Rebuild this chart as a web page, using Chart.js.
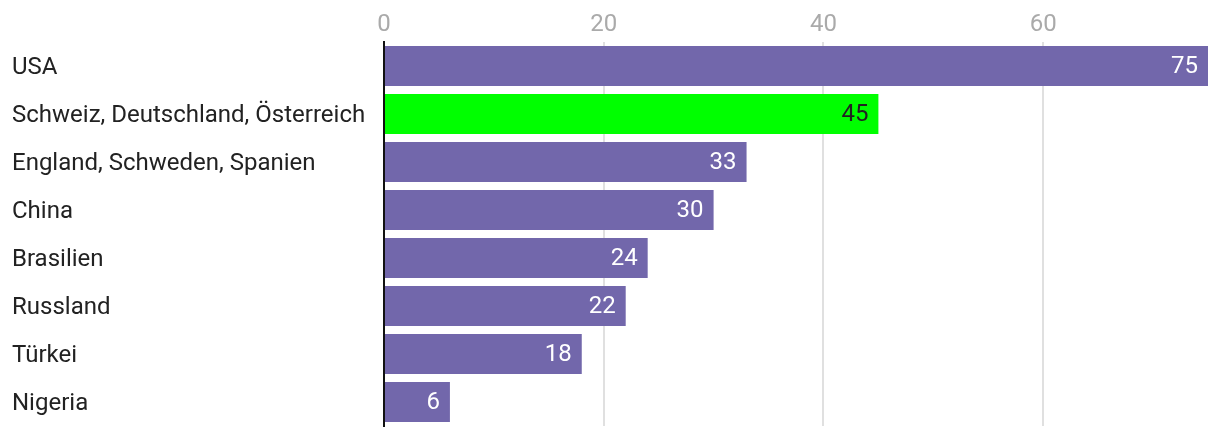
<!DOCTYPE html>
<html>
<head>
<meta charset="utf-8">
<script src="https://cdn.jsdelivr.net/npm/chart.js@4"></script>
<style>
  html, body { margin: 0; padding: 0; background: #fff; }
  #wrap { width: 1220px; height: 432px; }
</style>
</head>
<body>
<div id="wrap"><canvas id="chart"></canvas></div>
<script>
const countries = ['USA', 'Schweiz, Deutschland, Österreich', 'England, Schweden, Spanien', 'China', 'Brasilien', 'Russland', 'Türkei', 'Nigeria'];
const values = [75, 45, 33, 30, 24, 22, 18, 6];
const barColors = ['#7267ab', '#00ff00', '#7267ab', '#7267ab', '#7267ab', '#7267ab', '#7267ab', '#7267ab'];
const labelColors = ['#ffffff', '#222222', '#ffffff', '#ffffff', '#ffffff', '#ffffff', '#ffffff', '#ffffff'];
const xTicks = [0, 20, 40, 60];

Chart.defaults.font.family = 'Roboto, sans-serif';

// value labels inside the bar ends
const valueLabels = {
    id: 'valueLabels',
    afterDatasetsDraw(chart) {
        const c = chart.ctx;
        const meta = chart.getDatasetMeta(0);
        c.save();
        c.font = '24px Roboto, sans-serif';
        c.textAlign = 'right';
        c.textBaseline = 'middle';
        meta.data.forEach((bar, i) => {
            c.fillStyle = labelColors[i];
            c.fillText(values[i], bar.x - 10, bar.y + 1);
        });
        c.restore();
    }
};

new Chart(document.getElementById('chart'), {
    type: 'bar',
    data: {
        labels: countries,
        datasets: [{
            data: values,
            backgroundColor: barColors,
            borderWidth: 0,
            barPercentage: 0.83,
            categoryPercentage: 1
        }]
    },
    options: {
        indexAxis: 'y',
        responsive: true,
        maintainAspectRatio: false,
        animation: false,
        layout: { padding: { left: 12, right: 12, top: 0, bottom: 6 } },
        plugins: {
            legend: { display: false },
            tooltip: { enabled: false }
        },
        scales: {
            x: {
                position: 'top',
                min: 0,
                max: 75,
                afterBuildTicks: axis => { axis.ticks = xTicks.map(v => ({ value: v })); },
                afterFit: axis => { axis.height = 42; },
                grid: { color: '#e0e0e0', lineWidth: 2, drawTicks: false },
                border: { display: false },
                ticks: { color: '#aaaaaa', font: { size: 24 }, padding: 3 }
            },
            y: {
                afterFit: axis => {
                    axis.width = 372;
                    axis.paddingTop = 0;
                    axis.paddingBottom = 0;
                },
                grid: { display: false },
                border: { color: '#111111', width: 2 },
                ticks: { color: '#222222', font: { size: 24 }, crossAlign: 'far', padding: 0, labelOffset: 2 }
            }
        }
    },
    plugins: [valueLabels]
});
</script>
</body>
</html>
